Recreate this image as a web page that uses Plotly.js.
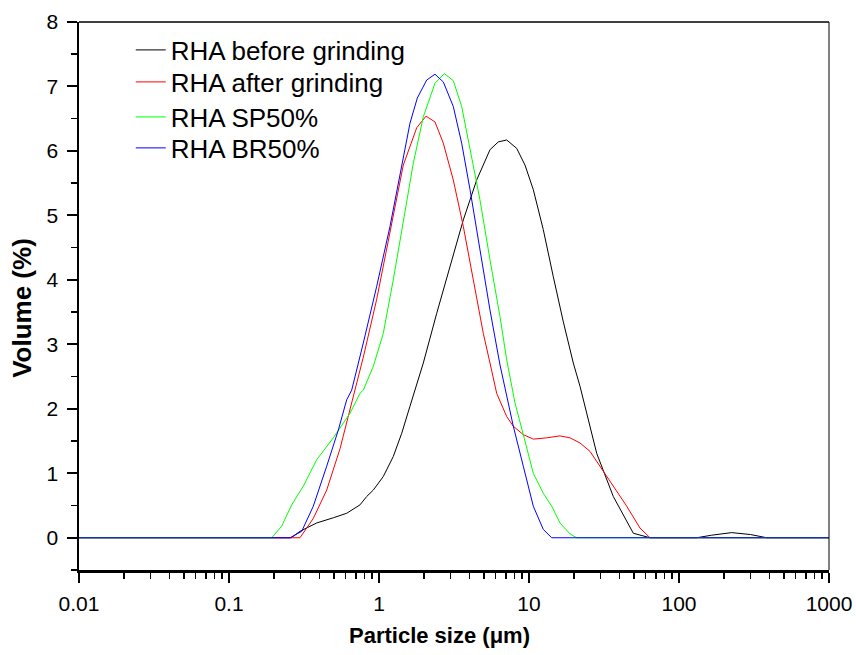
<!DOCTYPE html>
<html>
<head>
<meta charset="utf-8">
<script src="https://cdn.plot.ly/plotly-3.0.1.min.js"></script>
<style>html,body{margin:0;padding:0;background:#fff;}#chart{width:856px;height:655px;}</style>
</head>
<body>
<div id="chart"></div>
<script>
// Particle size (µm) and volume (%)
const beforeX = [0.01, 0.26, 0.2974, 0.3843, 0.4958, 0.609, 0.7468, 0.828, 0.9162, 1.068, 1.245, 1.417, 1.609, 1.974, 2.424, 2.974, 3.648, 4.481, 5.495, 6.243, 7.101, 8.279, 9.404, 10.68, 12.45, 14.52, 16.93, 19.74, 21.88, 28.27, 36.48, 49.58, 64.07, 131.2, 165, 224.5, 300, 384.3, 1000];
const beforeY = [0, 0, 0.10, 0.23, 0.31, 0.38, 0.51, 0.64, 0.74, 0.95, 1.26, 1.62, 2.04, 2.71, 3.48, 4.21, 4.93, 5.55, 6.02, 6.14, 6.17, 6.04, 5.78, 5.40, 4.78, 4.05, 3.35, 2.71, 2.35, 1.31, 0.64, 0.07, 0, 0, 0.04, 0.08, 0.05, 0, 0];

const afterX = [0.01, 0.2974, 0.3648, 0.4481, 0.5495, 0.6405, 0.7857, 0.9654, 1.184, 1.452, 1.784, 2.058, 2.362, 2.684, 3.128, 3.648, 4.254, 4.958, 5.495, 6.09, 7.101, 7.859, 9.162, 10.68, 13.12, 16.09, 18.76, 21.88, 25.51, 29.74, 36.48, 44.81, 54.95, 64.07, 1000];
const afterY = [0, 0, 0.30, 0.74, 1.38, 2.00, 2.80, 3.70, 4.74, 5.78, 6.36, 6.54, 6.45, 6.12, 5.55, 4.83, 4.00, 3.17, 2.71, 2.24, 1.88, 1.73, 1.60, 1.53, 1.55, 1.58, 1.55, 1.47, 1.34, 1.11, 0.80, 0.49, 0.15, 0, 0];

const sp50X = [0.01, 0.1927, 0.2245, 0.2618, 0.3129, 0.3843, 0.4958, 0.6405, 0.7468, 0.7857, 0.9162, 1.068, 1.245, 1.452, 1.693, 1.974, 2.245, 2.362, 2.725, 3.128, 3.558, 4.044, 4.713, 5.495, 6.408, 7.101, 7.669, 8.068, 9.162, 10.68, 12.45, 14.17, 16.09, 18.76, 20.8, 1000];
const sp50Y = [0, 0, 0.18, 0.51, 0.80, 1.21, 1.55, 1.93, 2.24, 2.29, 2.66, 3.17, 4.00, 4.93, 5.81, 6.53, 6.89, 7.05, 7.20, 7.09, 6.69, 6.02, 5.24, 4.31, 3.43, 2.76, 2.35, 2.09, 1.60, 1.00, 0.69, 0.49, 0.23, 0.06, 0, 0];

const br50X = [0.01, 0.2551, 0.3052, 0.3648, 0.4481, 0.5355, 0.609, 0.6577, 0.7857, 0.9654, 1.184, 1.417, 1.609, 1.8, 2.08, 2.362, 2.684, 3.128, 3.558, 4.044, 4.713, 5.495, 6.408, 7.859, 9.162, 10.68, 12.45, 14.17, 1000];
const br50Y = [0, 0, 0.10, 0.49, 1.11, 1.67, 2.14, 2.29, 3.02, 3.90, 4.83, 5.76, 6.43, 6.82, 7.10, 7.19, 7.07, 6.69, 6.12, 5.40, 4.47, 3.53, 2.68, 1.73, 1.11, 0.49, 0.13, 0, 0];

const seriesNames = ["RHA before grinding", "RHA after grinding", "RHA SP50%", "RHA BR50%"];
const seriesColors = ["#000000", "#ff0000", "#00ff00", "#0000ff"];

const xTickVals = [0.01, 0.1, 1, 10, 100, 1000];
const xTickText = ["0.01", "0.1", "1", "10", "100", "1000"];
const yTickVals = [0, 1, 2, 3, 4, 5, 6, 7, 8];

const xTitle = "Particle size (μm)";
const yTitle = "Volume (%)";

const xs = [beforeX, afterX, sp50X, br50X];
const ys = [beforeY, afterY, sp50Y, br50Y];
const legendIds = ["legend", "legend2", "legend3", "legend4"];
const legendRowY = [0.9489, 0.8905, 0.8266, 0.7701];

const traces = xs.map((x, i) => ({
  x: x, y: ys[i], type: "scatter", mode: "lines", name: seriesNames[i],
  legend: legendIds[i],
  line: {color: seriesColors[i], width: 1}
}));

const font = "Liberation Sans, Arial, sans-serif";
const layout = {
  width: 856, height: 655,
  margin: {l: 79, r: 27, t: 22, b: 85},
  paper_bgcolor: "#fff", plot_bgcolor: "#fff",
  font: {family: font, color: "#000", size: 20},
  showlegend: true,
  xaxis: {
    type: "log", range: [-2, 3], tickvals: xTickVals, ticktext: xTickText,
    showgrid: false, zeroline: false, showline: true, linecolor: "#000", linewidth: 2.5,
    ticks: "outside", ticklen: 10, tickwidth: 2, tickcolor: "#000", ticklabelstandoff: 3,
    tickfont: {family: font, size: 21, color: "#000"},
    minor: {dtick: "D1", ticks: "outside", ticklen: 6, tickwidth: 1.5, tickcolor: "#000", showgrid: false}
  },
  yaxis: {
    range: [-0.5, 8], tickvals: yTickVals,
    showgrid: false, zeroline: false, showline: true, linecolor: "#000", linewidth: 2.5,
    ticks: "outside", ticklen: 10, tickwidth: 2, tickcolor: "#000", ticklabelstandoff: 4,
    tickfont: {family: font, size: 21, color: "#000"},
    minor: {dtick: 0.5, ticks: "outside", ticklen: 6, tickwidth: 1.5, tickcolor: "#000", showgrid: false}
  },
  annotations: [
    {text: xTitle, xref: "paper", yref: "paper", x: 0.481, y: -0.1204, xanchor: "center", yanchor: "middle",
     showarrow: false, font: {family: font, size: 22, color: "#000", weight: "bold"}},
    {text: yTitle, xref: "paper", yref: "paper", x: -0.0763, y: 0.478, xanchor: "center", yanchor: "middle",
     textangle: -90, showarrow: false, font: {family: font, size: 26, color: "#000", weight: "bold"}}
  ],
  shapes: [
    {type: "line", xref: "paper", yref: "paper", x0: 0, x1: 1, y0: 1, y1: 1, line: {color: "#000", width: 1.5}},
    {type: "line", xref: "paper", yref: "paper", x0: 1, x1: 1, y0: 0, y1: 1, line: {color: "#000", width: 1}}
  ]
};
legendIds.forEach((id, i) => {
  layout[id] = {x: 0.069, y: legendRowY[i], xanchor: "left", yanchor: "middle", bgcolor: "rgba(0,0,0,0)",
                font: {family: font, size: 26, color: "#000"}};
});

Plotly.newPlot("chart", traces, layout, {displayModeBar: false, staticPlot: true});
</script>
</body>
</html>
